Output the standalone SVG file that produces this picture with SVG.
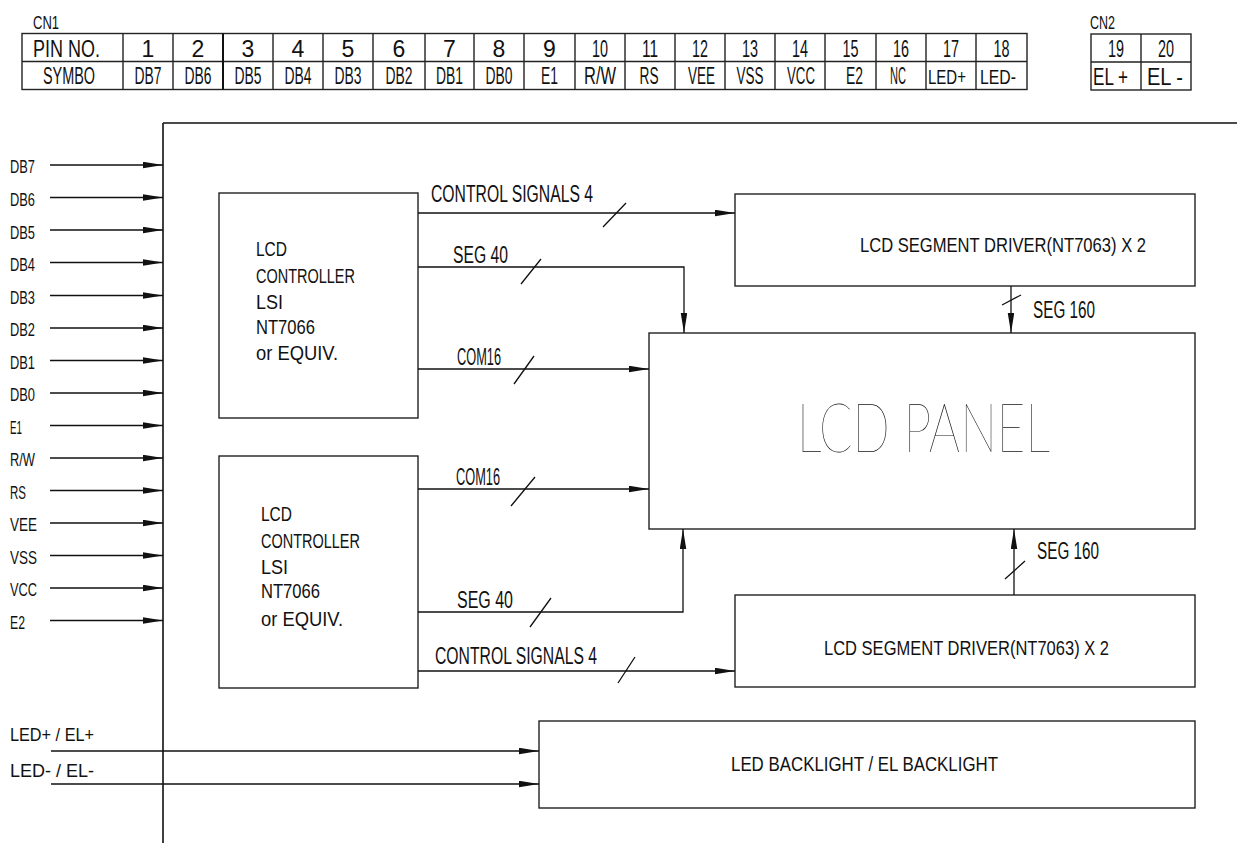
<svg xmlns="http://www.w3.org/2000/svg" width="1241" height="843" viewBox="0 0 1241 843">
<style>
.t{font-family:"Liberation Sans",Arial,sans-serif;fill:#111}
.s19{font-size:19px}
.s21{font-size:21px}
.s23{font-size:23px}
.m{text-anchor:middle}
.box{fill:none;stroke:#222;stroke-width:1.4}
.ln{fill:none;stroke:#111;stroke-width:1.3}
.con{fill:none;stroke:#111;stroke-width:1.3;marker-end:url(#ah)}
.big{font-family:Lato,"Liberation Sans",sans-serif;font-weight:100;font-size:68px;fill:#111}
</style>
<defs>
<marker id="ah" markerUnits="userSpaceOnUse" markerWidth="20" markerHeight="7" refX="20" refY="3.25" orient="auto">
<path d="M0,0 L20,3.25 L0,6.5 z" fill="#111"/>
</marker>
</defs>

<g id="table-cn1">
<text class="t s19" x="33" y="29" textLength="26" lengthAdjust="spacingAndGlyphs">CN1</text>
<rect class="box" x="22" y="33.5" width="1005" height="56"/>
<path class="box" d="M22,61.5 H1027 M123,33.5 V89.5 M173,33.5 V89.5 M223,33.5 V89.5 M273,33.5 V89.5 M323,33.5 V89.5 M373,33.5 V89.5 M425,33.5 V89.5 M474,33.5 V89.5 M524,33.5 V89.5 M575,33.5 V89.5 M625,33.5 V89.5 M675,33.5 V89.5 M725,33.5 V89.5 M775,33.5 V89.5 M825,33.5 V89.5 M876,33.5 V89.5 M926,33.5 V89.5 M976,33.5 V89.5"/>
<path d="M223,33.5 V89.5" stroke="#111" stroke-width="2"/>
<text class="t s23" x="33" y="56.5" textLength="67" lengthAdjust="spacingAndGlyphs">PIN NO.</text>
<text class="t s23" x="43" y="84" textLength="52" lengthAdjust="spacingAndGlyphs">SYMBO</text>
<g class="t s23 m">
<text x="148" y="56.5">1</text>
<text x="198" y="56.5">2</text>
<text x="248" y="56.5">3</text>
<text x="298" y="56.5">4</text>
<text x="348" y="56.5">5</text>
<text x="399" y="56.5">6</text>
<text x="449.5" y="56.5">7</text>
<text x="499" y="56.5">8</text>
<text x="549.5" y="56.5">9</text>
<text x="600" y="56.5" textLength="16" lengthAdjust="spacingAndGlyphs">10</text>
<text x="650" y="56.5" textLength="16" lengthAdjust="spacingAndGlyphs">11</text>
<text x="700" y="56.5" textLength="16" lengthAdjust="spacingAndGlyphs">12</text>
<text x="750" y="56.5" textLength="16" lengthAdjust="spacingAndGlyphs">13</text>
<text x="800" y="56.5" textLength="16" lengthAdjust="spacingAndGlyphs">14</text>
<text x="850.5" y="56.5" textLength="16" lengthAdjust="spacingAndGlyphs">15</text>
<text x="901" y="56.5" textLength="16" lengthAdjust="spacingAndGlyphs">16</text>
<text x="951" y="56.5" textLength="16" lengthAdjust="spacingAndGlyphs">17</text>
<text x="1001.5" y="56.5" textLength="16" lengthAdjust="spacingAndGlyphs">18</text>
<text x="148" y="84" textLength="27" lengthAdjust="spacingAndGlyphs">DB7</text>
<text x="198" y="84" textLength="27" lengthAdjust="spacingAndGlyphs">DB6</text>
<text x="248" y="84" textLength="27" lengthAdjust="spacingAndGlyphs">DB5</text>
<text x="298" y="84" textLength="27" lengthAdjust="spacingAndGlyphs">DB4</text>
<text x="348" y="84" textLength="27" lengthAdjust="spacingAndGlyphs">DB3</text>
<text x="399" y="84" textLength="27" lengthAdjust="spacingAndGlyphs">DB2</text>
<text x="449.5" y="84" textLength="27" lengthAdjust="spacingAndGlyphs">DB1</text>
<text x="499" y="84" textLength="27" lengthAdjust="spacingAndGlyphs">DB0</text>
<text x="549.5" y="84" textLength="17" lengthAdjust="spacingAndGlyphs">E1</text>
<text x="600" y="84" textLength="32" lengthAdjust="spacingAndGlyphs">R/W</text>
<text x="649" y="84" textLength="19" lengthAdjust="spacingAndGlyphs">RS</text>
<text x="701.5" y="84" textLength="27" lengthAdjust="spacingAndGlyphs">VEE</text>
<text x="750" y="84" textLength="27" lengthAdjust="spacingAndGlyphs">VSS</text>
<text x="801" y="84" textLength="28" lengthAdjust="spacingAndGlyphs">VCC</text>
<text x="854.5" y="84" textLength="17" lengthAdjust="spacingAndGlyphs">E2</text>
<text x="898" y="84" textLength="16" lengthAdjust="spacingAndGlyphs">NC</text>
</g>
<g class="t s21 m">
<text x="947" y="84" textLength="38" lengthAdjust="spacingAndGlyphs">LED+</text>
<text x="998" y="84" textLength="36" lengthAdjust="spacingAndGlyphs">LED-</text>
</g>
</g>

<g id="table-cn2">
<text class="t s19" x="1090" y="29" textLength="25" lengthAdjust="spacingAndGlyphs">CN2</text>
<rect class="box" x="1091" y="34" width="100" height="56"/>
<path class="box" d="M1091,62 H1191 M1141,34 V90"/>
<g class="t s23 m">
<text x="1116" y="57" textLength="16" lengthAdjust="spacingAndGlyphs">19</text>
<text x="1166" y="57" textLength="16" lengthAdjust="spacingAndGlyphs">20</text>
<text x="1110.5" y="84.5" textLength="35" lengthAdjust="spacingAndGlyphs">EL +</text>
<text x="1165" y="84.5" textLength="36" lengthAdjust="spacingAndGlyphs">EL -</text>
</g>
</g>

<g id="frame">
<path d="M163,123 H1237 M163,123 V843" fill="none" stroke="#111" stroke-width="1.6"/>
</g>

<g id="input-labels" class="t s19">
<text x="10" y="173" textLength="25" lengthAdjust="spacingAndGlyphs">DB7</text>
<text x="10" y="206" textLength="25" lengthAdjust="spacingAndGlyphs">DB6</text>
<text x="10" y="238.5" textLength="25" lengthAdjust="spacingAndGlyphs">DB5</text>
<text x="10" y="271" textLength="25" lengthAdjust="spacingAndGlyphs">DB4</text>
<text x="10" y="303.5" textLength="25" lengthAdjust="spacingAndGlyphs">DB3</text>
<text x="10" y="336" textLength="25" lengthAdjust="spacingAndGlyphs">DB2</text>
<text x="10" y="368.5" textLength="25" lengthAdjust="spacingAndGlyphs">DB1</text>
<text x="10" y="401" textLength="25" lengthAdjust="spacingAndGlyphs">DB0</text>
<text x="10" y="433.5" textLength="12" lengthAdjust="spacingAndGlyphs">E1</text>
<text x="10" y="466" textLength="25" lengthAdjust="spacingAndGlyphs">R/W</text>
<text x="10" y="498.5" textLength="16" lengthAdjust="spacingAndGlyphs">RS</text>
<text x="10" y="531" textLength="27" lengthAdjust="spacingAndGlyphs">VEE</text>
<text x="10" y="563.5" textLength="27" lengthAdjust="spacingAndGlyphs">VSS</text>
<text x="10" y="596" textLength="27" lengthAdjust="spacingAndGlyphs">VCC</text>
<text x="10" y="628.5" textLength="15" lengthAdjust="spacingAndGlyphs">E2</text>
<text x="10" y="741" textLength="84" lengthAdjust="spacingAndGlyphs">LED+ / EL+</text>
<text x="10" y="777" textLength="84" lengthAdjust="spacingAndGlyphs">LED- / EL-</text>
</g>

<g id="controller1">
<rect class="box" x="219" y="193" width="199" height="225"/>
<g class="t s21">
<text x="256" y="256" textLength="31" lengthAdjust="spacingAndGlyphs">LCD</text>
<text x="256" y="283" textLength="99" lengthAdjust="spacingAndGlyphs">CONTROLLER</text>
<text x="256" y="308.5" textLength="27" lengthAdjust="spacingAndGlyphs">LSI</text>
<text x="256" y="334" textLength="59" lengthAdjust="spacingAndGlyphs">NT7066</text>
<text x="256" y="360" textLength="82" lengthAdjust="spacingAndGlyphs">or EQUIV.</text>
</g>
</g>

<g id="controller2">
<rect class="box" x="219" y="456" width="199" height="232"/>
<g class="t s21">
<text x="261" y="521" textLength="31" lengthAdjust="spacingAndGlyphs">LCD</text>
<text x="261" y="548" textLength="99" lengthAdjust="spacingAndGlyphs">CONTROLLER</text>
<text x="261" y="574" textLength="27" lengthAdjust="spacingAndGlyphs">LSI</text>
<text x="261" y="598" textLength="59" lengthAdjust="spacingAndGlyphs">NT7066</text>
<text x="261" y="626" textLength="82" lengthAdjust="spacingAndGlyphs">or EQUIV.</text>
</g>
</g>

<g id="driver1">
<rect class="box" x="735" y="194" width="460" height="92"/>
<text class="t s21" x="860" y="251.5" textLength="286" lengthAdjust="spacingAndGlyphs">LCD SEGMENT DRIVER(NT7063) X 2</text>
</g>

<g id="lcd-panel">
<rect class="box" x="649" y="333" width="546" height="196"/>
<text class="big" x="797" y="451.5" textLength="253" lengthAdjust="spacingAndGlyphs">LCD PANEL</text>
</g>

<g id="driver2">
<rect class="box" x="735" y="595" width="460" height="92"/>
<text class="t s21" x="824" y="655" textLength="285" lengthAdjust="spacingAndGlyphs">LCD SEGMENT DRIVER(NT7063) X 2</text>
</g>

<g id="backlight">
<rect class="box" x="539" y="721" width="656" height="87"/>
<text class="t s21" x="731" y="771" textLength="267" lengthAdjust="spacingAndGlyphs">LED BACKLIGHT / EL BACKLIGHT</text>
</g>

<g id="connectors">
<path class="con" d="M50,165 H163"/>
<path class="con" d="M50,197.5 H163"/>
<path class="con" d="M50,230 H163"/>
<path class="con" d="M50,262.5 H163"/>
<path class="con" d="M50,295.5 H163"/>
<path class="con" d="M50,328 H163"/>
<path class="con" d="M50,360.5 H163"/>
<path class="con" d="M50,393 H163"/>
<path class="con" d="M50,425.5 H163"/>
<path class="con" d="M50,458 H163"/>
<path class="con" d="M50,490.5 H163"/>
<path class="con" d="M50,523 H163"/>
<path class="con" d="M50,555.5 H163"/>
<path class="con" d="M50,588 H163"/>
<path class="con" d="M50,620.5 H163"/>
<path class="con" d="M51,751 H539"/>
<path class="con" d="M51,784 H539"/>

<path class="con" d="M418,213 H735"/>
<path class="con" d="M418,267 H684 V333"/>
<path class="con" d="M418,369 H649"/>
<path class="con" d="M1011,286 V333"/>
<path class="con" d="M418,489 H649"/>
<path class="con" d="M418,612 H683 V529"/>
<path class="con" d="M418,671 H735"/>
<path class="con" d="M1014,595 V529"/>

<path class="ln" d="M603,227 L626,203 M521,284 L541,259 M514,384 L534,356 M511,506 L535,477 M530,627 L551,598 M618,683 L635,657 M1002,305 L1021,295 M1005,579 L1025,561"/>

<g class="t s23">
<text x="431" y="201.5" textLength="162" lengthAdjust="spacingAndGlyphs">CONTROL SIGNALS 4</text>
<text x="453" y="262.5" textLength="55" lengthAdjust="spacingAndGlyphs">SEG 40</text>
<text x="457" y="365" textLength="44" lengthAdjust="spacingAndGlyphs">COM16</text>
<text x="1033" y="318" textLength="62" lengthAdjust="spacingAndGlyphs">SEG 160</text>
<text x="456" y="485" textLength="44" lengthAdjust="spacingAndGlyphs">COM16</text>
<text x="457" y="608" textLength="56" lengthAdjust="spacingAndGlyphs">SEG 40</text>
<text x="435" y="664" textLength="162" lengthAdjust="spacingAndGlyphs">CONTROL SIGNALS 4</text>
<text x="1037" y="559" textLength="62" lengthAdjust="spacingAndGlyphs">SEG 160</text>
</g>
</g>
</svg>
